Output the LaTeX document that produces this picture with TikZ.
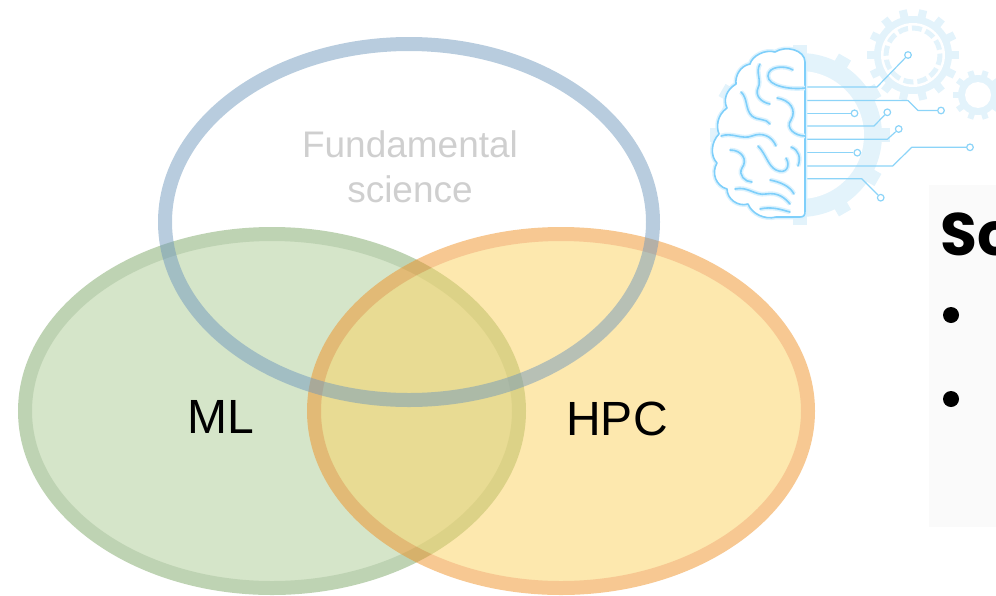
\documentclass[tikz,border=0pt]{standalone}
\usepackage{fontspec}
\setmainfont{Liberation Sans}
\newfontfamily\headfont{Poppins}
\usetikzlibrary{shapes.geometric}

% Venn palette (painted at half opacity)
\definecolor{mlfill}{HTML}{ABCB93}
\definecolor{mlline}{HTML}{7DA767}
\definecolor{hpcfill}{HTML}{FBD15D}
\definecolor{hpcline}{HTML}{EF9125}
\definecolor{fsline}{HTML}{7199BD}
\definecolor{fstext}{HTML}{CFCFCF}
% icon palette
\definecolor{gearblue}{HTML}{E3F3FB}
\definecolor{brainblue}{HTML}{7FCFFA}
\definecolor{wireblue}{HTML}{8CD4F8}
\definecolor{panelgrey}{HTML}{FAFAFA}

% cog wheel: centre x, centre y, teeth, body radius, tip radius, tooth width
\newcommand\cogwheel[6]{%
  \fill[gearblue] (#1,#2) circle[radius=#4];
  \foreach \k in {1,...,#3}{%
    \fill[gearblue, shift={(#1,#2)}, rotate=\k*360/#3] (#4-3,-#6/2) rectangle (#5,#6/2);
  }%
}

\begin{document}
\begin{tikzpicture}[x=1pt,y=-1pt,
  vset/.style={ellipse, inner sep=0pt, line width=14pt},
  label/.style={inner sep=0pt, font=\fontsize{48}{56}\selectfont},
  brain/.style={draw=brainblue, line width=1.6pt, line cap=round, line join=round,
    preaction={draw=brainblue!28, line width=4.6pt}},
  wire/.style={draw=wireblue, line width=1.2pt, line join=round},
  pad/.style={circle, draw=wireblue, line width=1.2pt, fill=white, minimum size=6.6pt, inner sep=0pt},
  bullet/.style={circle, fill=black, minimum size=16pt, inner sep=0pt}]
\useasboundingbox (0,0) rectangle (996,595);

% ---- Venn diagram ----
\begin{scope}[transparency group, opacity=0.5]
  \node[vset, draw=mlline, fill=mlfill, minimum width=494pt, minimum height=354pt] (ml) at (272,411) {};
\end{scope}
\begin{scope}[transparency group, opacity=0.5]
  \node[vset, draw=hpcline, fill=hpcfill, minimum width=494pt, minimum height=354pt] (hpc) at (561,411) {};
\end{scope}
\begin{scope}[transparency group, opacity=0.5]
  \node[vset, draw=fsline, minimum width=488pt, minimum height=356pt] (fs) at (409,222) {};
\end{scope}

\node[inner sep=0pt, anchor=north, align=center, text=fstext,
  font=\fontsize{37}{45}\selectfont] (fstitle) at (410,130) {Fundamental\\science};
\node[label, anchor=base] (mltitle) at (221,433) {ML};
\node[label, anchor=base] (hpctitle) at (617,435) {HPC};

% ---- brain with circuits ----
\cogwheel{800}{135}{12}{82}{90}{14}
\fill[white] (800,135) circle[radius=64];
\cogwheel{913}{55}{14}{39}{46}{8}
\fill[white] (913,55) circle[radius=32];
\draw[gearblue, line width=5pt, dash pattern=on 10pt off 4pt] (913,55) circle[radius=27];
\cogwheel{978}{95}{10}{20}{25}{6}
\fill[white] (978,95) circle[radius=13];

\foreach \n/\y in {1/87,2/100.5,3/113.3,4/126,5/139.3,6/152.7,7/166,8/178.7}
  \coordinate (s\n) at (803,\y);
\node[pad] (t1) at (908,55) {};
\node[pad] (t2) at (941,110.5) {};
\node[pad] (t3) at (854.5,113.3) {};
\node[pad] (t4) at (887.3,112.3) {};
\node[pad] (t5) at (898.7,129) {};
\node[pad] (t6) at (857.3,152.7) {};
\node[pad] (t7) at (970,147.3) {};
\node[pad] (t8) at (880.7,197.7) {};
\draw[wire] (s1) -- (877,87) -- (t1);
\draw[wire] (s2) -- (908,100.5) -- (918,110.5) -- (t2);
\draw[wire] (s3) -- (t3);
\draw[wire] (s4) -- (874,126) -- (t4);
\draw[wire] (s5) -- (887.3,139.3) -- (t5);
\draw[wire] (s6) -- (t6);
\draw[wire] (s7) -- (892.7,166) -- (911.7,147.3) -- (t7);
\draw[wire] (s8) -- (861.7,178.7) -- (t8);

% hemisphere outline
\path[brain, fill=white] (805,62)
  .. controls (805,50) and (786,45) .. (775,52)
  .. controls (765,49) and (752,56) .. (750,64)
  .. controls (740,66) and (735,76) .. (736,84)
  .. controls (726,90) and (723,100) .. (727,108)
  .. controls (717,115) and (716,127) .. (719,134)
  .. controls (711,142) and (710,156) .. (717,163)
  .. controls (711,173) and (716,186) .. (727,189)
  .. controls (727,199) and (738,207) .. (748,204)
  .. controls (752,214) and (765,220) .. (776,217)
  -- (800,217) .. controls (804,217) and (805,215) .. (805,211) -- cycle;
% folds
\draw[brain] (805,88) .. controls (790,90) and (768,86) .. (768,76) .. controls (768,66) and (785,65) .. (793,70);
\draw[brain] (760,64) .. controls (755,72) and (762,80) .. (758,88) .. controls (755,95) and (760,102) .. (770,104);
\draw[brain] (741,92) .. controls (748,98) and (745,110) .. (752,116) .. controls (758,121) and (766,118) .. (770,124);
\draw[brain] (777,98) .. controls (790,100) and (797,110) .. (791,120) .. controls (785,128) and (795,136) .. (805,136);
\draw[brain] (721,136) .. controls (732,132) and (742,140) .. (752,136) .. controls (762,132) and (772,136) .. (776,146);
\draw[brain] (730,150) .. controls (742,150) and (748,160) .. (742,168) .. controls (738,175) and (745,182) .. (752,182);
\draw[brain] (758,146) .. controls (766,154) and (768,166) .. (776,170) .. controls (786,175) and (791,166) .. (786,158);
\draw[brain] (791,147) .. controls (799,150) and (801,158) .. (798,166);
\draw[brain] (735,189) .. controls (748,186) and (755,196) .. (766,194) .. controls (778,192) and (785,198) .. (790,204);
\draw[brain] (770,180) .. controls (780,182) and (790,186) .. (794,194);
\draw[brain] (760,209) .. controls (772,206) and (782,210) .. (790,212);

% ---- side panel ----
\node[fill=panelgrey, inner sep=0pt, anchor=north west, minimum width=90pt, minimum height=342pt] (panel) at (929,185) {};
\node[inner sep=0pt, anchor=base west, font=\headfont\bfseries\fontsize{60}{72}\selectfont] (heading) at (940,255) {Sc};
\node[bullet] (b1) at (951,315) {};
\node[bullet] (b2) at (951,399) {};
\end{tikzpicture}
\end{document}
